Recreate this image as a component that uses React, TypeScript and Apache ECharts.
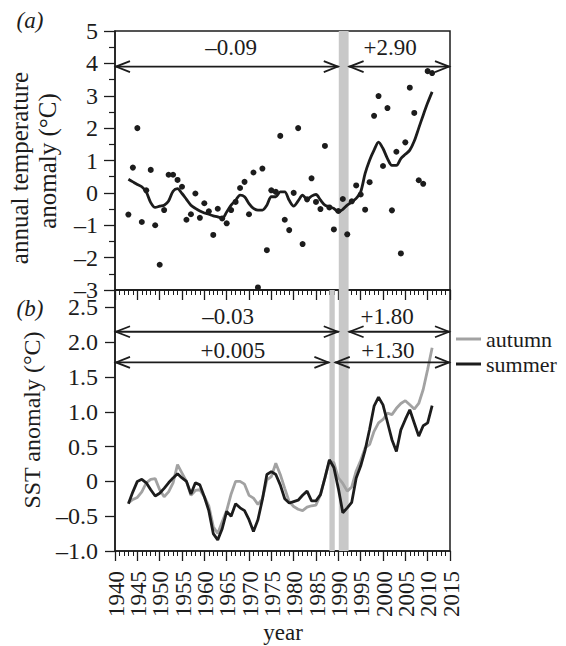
import React, { useEffect, useRef } from 'react';
import * as echarts from 'echarts';

const years = [
  1943, 1944, 1945, 1946, 1947, 1948, 1949, 1950, 1951, 1952,
  1953, 1954, 1955, 1956, 1957, 1958, 1959, 1960, 1961, 1962,
  1963, 1964, 1965, 1966, 1967, 1968, 1969, 1970, 1971, 1972,
  1973, 1974, 1975, 1976, 1977, 1978, 1979, 1980, 1981, 1982,
  1983, 1984, 1985, 1986, 1987, 1988, 1989, 1990, 1991, 1992,
  1993, 1994, 1995, 1996, 1997, 1998, 1999, 2000, 2001, 2002,
  2003, 2004, 2005, 2006, 2007, 2008, 2009, 2010, 2011,
];

// year tick labels of the shared time axis
const yearTicks = [
  1940, 1945, 1950, 1955, 1960, 1965, 1970, 1975,
  1980, 1985, 1990, 1995, 2000, 2005, 2010, 2015,
];

// panel (a): annual air temperature anomaly (dots) and smoothed curve
const annualAnomaly = [
  -0.67, 0.78, 2.0, -0.9, 0.08, 0.71, -1.0, -2.22, -0.53, 0.56,
  0.56, 0.4, 0.19, -0.83, -0.66, -0.02, -0.77, -0.32, -0.57, -1.3,
  -0.49, -0.79, -0.94, -0.53, -0.28, 0.15, 0.34, -0.66, 0.63, -2.92,
  0.75, -1.77, 0.08, 0.03, 1.76, -0.83, -1.15, 0.0, 2.0, -1.58,
  -0.2, 0.45, -0.28, -0.5, 1.45, -0.45, -1.13, -0.56, -0.19, -1.28,
  -0.26, 0.23, -0.05, -0.52, 0.33, 2.38, 2.99, 0.83, 2.62, -0.54,
  1.27, -1.87, 1.56, 3.25, 2.47, 0.39, 0.28, 3.76, 3.7,
];
const annualSmooth = [
  0.42, 0.34, 0.26, 0.19, 0.03, -0.3, -0.45, -0.41, -0.38, -0.25,
  0.05, 0.13, -0.02, -0.2, -0.38, -0.48, -0.56, -0.62, -0.66, -0.71,
  -0.74, -0.79, -0.59, -0.38, -0.23, -0.07, -0.12, -0.33, -0.48, -0.53,
  -0.53, -0.38, -0.12, -0.12, 0.03, 0.03, -0.23, -0.41, -0.25, -0.07,
  -0.2, -0.1, -0.05, -0.22, -0.38, -0.43, -0.48, -0.59, -0.51, -0.38,
  -0.28, -0.17, 0.03, 0.6, 1.01, 1.32, 1.57, 1.37, 1.06, 0.85,
  0.85, 1.06, 1.19, 1.32, 1.6, 2.0, 2.4, 2.78, 3.12,
];

// panel (b): SST anomaly
const autumnSST = [
  -0.31, -0.26, -0.23, -0.15, -0.02, 0.03, 0.04, -0.12, -0.22, -0.15,
  -0.02, 0.24, 0.12, 0.0, -0.2, -0.13, -0.12, -0.22, -0.35, -0.65,
  -0.75, -0.58, -0.42, -0.18, 0.0, 0.0, -0.04, -0.2, -0.24, -0.33,
  -0.25, 0.02, 0.07, 0.26, 0.1, -0.1, -0.29, -0.36, -0.4, -0.42,
  -0.37, -0.35, -0.34, -0.19, 0.05, 0.29, 0.27, 0.05, -0.03, -0.14,
  -0.08, 0.15, 0.3, 0.48, 0.53, 0.72, 0.84, 0.89, 0.98, 0.96,
  1.05, 1.12, 1.16, 1.1, 1.04, 1.12, 1.32, 1.61, 1.92,
];
const summerSST = [
  -0.32, -0.15, 0.0, 0.03, -0.02, -0.12, -0.21, -0.17, -0.1, -0.02,
  0.05, 0.11, 0.05, 0.0, -0.18, -0.02, -0.05, -0.22, -0.42, -0.75,
  -0.84, -0.68, -0.43, -0.5, -0.32, -0.38, -0.42, -0.55, -0.72, -0.55,
  -0.26, 0.1, 0.14, 0.1, -0.05, -0.25, -0.31, -0.29, -0.27, -0.2,
  -0.14, -0.28, -0.28, -0.19, 0.05, 0.31, 0.2, -0.1, -0.45, -0.38,
  -0.3, 0.05, 0.22, 0.45, 0.75, 1.08, 1.21, 1.1, 0.85, 0.6,
  0.43, 0.74, 0.89, 1.03, 0.84, 0.65, 0.8, 0.84, 1.09,
];

// shaded periods (start year, end year)
const bandsA = [[1990.1, 1992.3]];
const bandsB = [[1988, 1989.2], [1990.1, 1992.3]];

// trend arrows: [from year, to year, y value, label x (year), label y]
const arrowsA = [
  [1940, 1990.1, 3.9, 1966, 4.48],
  [1992.3, 2015, 3.9, 2001.6, 4.48],
];
const arrowLabelsA = ['\u20130.09', '+2.90'];
const arrowsB = [
  [1940, 1990.1, 2.15, 1965.3, 2.37],
  [1992.3, 2015, 2.15, 2000.9, 2.37],
  [1940, 1988, 1.71, 1966.4, 1.88],
  [1989.2, 2015, 1.71, 2001.1, 1.88],
];
const arrowLabelsB = ['\u20130.03', '+1.80', '+0.005', '+1.30'];

const FONT = 'Liberation Serif';
const INK = '#1c1c1c';
const GREY = '#a2a2a2';
const BAND = '#c8c8c8';

const dash = (v: number, digits: number) => {
  if (v === 0) return '0';
  const s = Math.abs(v).toFixed(digits);
  return v < 0 ? '\u2013' + s : s;
};

function arrowRenderer(labels: string[]) {
  return (params: any, api: any) => {
    const p1 = api.coord([api.value(0), api.value(2)]);
    const p2 = api.coord([api.value(1), api.value(2)]);
    const lp = api.coord([api.value(3), api.value(4)]);
    const hl = 15;
    const hw = 5.5;
    const st = { stroke: INK, lineWidth: 1.8, fill: 'none' };
    return {
      type: 'group',
      children: [
        { type: 'line', shape: { x1: p1[0], y1: p1[1], x2: p2[0], y2: p2[1] }, style: st },
        {
          type: 'polyline',
          shape: { points: [[p1[0] + hl, p1[1] - hw], [p1[0] + 1, p1[1]], [p1[0] + hl, p1[1] + hw]] },
          style: st,
        },
        {
          type: 'polyline',
          shape: { points: [[p2[0] - hl, p2[1] - hw], [p2[0] - 1, p2[1]], [p2[0] - hl, p2[1] + hw]] },
          style: st,
        },
        {
          type: 'text',
          x: lp[0],
          y: lp[1],
          style: {
            text: labels[params.dataIndex],
            fill: INK,
            fontSize: 23,
            fontFamily: FONT,
            align: 'center',
            verticalAlign: 'middle',
          },
        },
      ],
    };
  };
}

// rotated year labels placed under the bottom axis through the axis scale
function yearLabelRenderer(params: any, api: any) {
  const p = api.coord([api.value(0), -1]);
  return {
    type: 'text',
    x: p[0] + 1,
    y: p[1] + 20,
    rotation: Math.PI / 2,
    style: {
      text: String(api.value(0)),
      fill: INK,
      fontSize: 23,
      fontFamily: FONT,
      align: 'right',
      verticalAlign: 'middle',
    },
  };
}

export default function App() {
  const ref = useRef<HTMLDivElement>(null);

  useEffect(() => {
    if (!ref.current) return;
    const chart = echarts.init(ref.current, undefined, { renderer: 'svg' });

    const axisLine = { show: true, onZero: false, lineStyle: { color: INK, width: 1.5 } };
    const xCommon = {
      type: 'value',
      min: 1940,
      max: 2015,
      interval: 5,
      axisLine,
      splitLine: { show: false },
      axisLabel: { show: false },
      axisTick: { show: true, inside: false, length: 10, lineStyle: { color: INK, width: 1.3 } },
      minorTick: { show: true, splitNumber: 5, length: 5, lineStyle: { color: INK, width: 1 } },
    };

    const txt = (text: string, x: number, y: number, size: number, rot = 0, italic = false) => ({
      type: 'text',
      x,
      y,
      rotation: rot,
      style: {
        text,
        fontSize: size,
        fontFamily: FONT,
        fontStyle: italic ? 'italic' : 'normal',
        fill: INK,
        align: 'center',
        verticalAlign: 'middle',
      },
    });

    const option: any = {
      animation: false,
      backgroundColor: '#ffffff',
      textStyle: { fontFamily: FONT },
      grid: [
        { left: 115, top: 31, width: 335, height: 259, show: true, borderColor: INK, borderWidth: 1.5, backgroundColor: 'transparent' },
        { left: 115, top: 290, width: 335, height: 261, show: true, borderColor: INK, borderWidth: 1.5, backgroundColor: 'transparent' },
      ],
      xAxis: [
        { ...xCommon, gridIndex: 0 },
        { ...xCommon, gridIndex: 1 },
      ],
      yAxis: [
        {
          type: 'value',
          gridIndex: 0,
          min: -3,
          max: 5,
          interval: 1,
          axisLine,
          splitLine: { show: false },
          axisTick: { show: true, inside: false, length: 11, lineStyle: { color: INK, width: 1.3 } },
          minorTick: { show: true, splitNumber: 2, length: 6, lineStyle: { color: INK, width: 1.2 } },
          axisLabel: {
            margin: 17,
            fontSize: 24,
            lineHeight: 16,
            fontFamily: FONT,
            color: INK,
            showMinLabel: true,
            showMaxLabel: true,
            formatter: (v: number) => dash(v, 0),
          },
        },
        {
          type: 'value',
          gridIndex: 1,
          min: -1,
          max: 2.75,
          interval: 0.5,
          axisLine,
          splitLine: { show: false },
          axisTick: { show: true, inside: false, length: 10, lineStyle: { color: INK, width: 1.3 } },
          axisLabel: {
            margin: 17,
            fontSize: 24,
            lineHeight: 16,
            fontFamily: FONT,
            color: INK,
            showMinLabel: true,
            showMaxLabel: false,
            formatter: (v: number) => (v > 2.6 ? '' : dash(v, 1)),
          },
        },
      ],
      legend: {
        data: [
          { name: 'autumn', icon: 'rect' },
          { name: 'summer', icon: 'rect' },
        ],
        orient: 'vertical',
        left: 456,
        top: 328,
        itemWidth: 25,
        itemHeight: 3,
        itemGap: 3,
        padding: 0,
        textStyle: { fontSize: 22, lineHeight: 22, fontFamily: FONT, color: INK },
      },
      graphic: [
        txt('(a)', 30, 20, 23, 0, true),
        txt('(b)', 30, 308, 23, 0, true),
        txt('annual temperature', 19, 168, 25, Math.PI / 2),
        txt('anomaly (\u00B0C)', 47, 161, 25, Math.PI / 2),
        txt('SST anomaly (\u00B0C)', 32, 420, 24, Math.PI / 2),
        txt('year', 283, 632, 23),
      ],
      series: [
        {
          name: 'bandsA',
          type: 'line',
          xAxisIndex: 0,
          yAxisIndex: 0,
          data: years.map((y, i) => [y, annualSmooth[i]]),
          lineStyle: { opacity: 0 },
          symbol: 'none',
          silent: true,
          z: 0,
          markArea: {
            silent: true,
            itemStyle: { color: BAND, opacity: 1 },
            data: bandsA.map((b) => [{ xAxis: b[0] }, { xAxis: b[1] }]),
          },
        },
        {
          name: 'annual',
          type: 'scatter',
          xAxisIndex: 0,
          yAxisIndex: 0,
          symbol: 'circle',
          symbolSize: 6,
          itemStyle: { color: INK, opacity: 1 },
          data: years.map((y, i) => [y, annualAnomaly[i]]),
          z: 3,
        },
        {
          name: 'smoothed',
          type: 'line',
          xAxisIndex: 0,
          yAxisIndex: 0,
          symbol: 'none',
          smooth: 0.3,
          lineStyle: { color: INK, width: 2.8 },
          data: years.map((y, i) => [y, annualSmooth[i]]),
          z: 3,
        },
        {
          name: 'arrowsA',
          type: 'custom',
          xAxisIndex: 0,
          yAxisIndex: 0,
          renderItem: arrowRenderer(arrowLabelsA),
          encode: { x: [0, 1, 3], y: [2, 4] },
          data: arrowsA,
          z: 4,
          silent: true,
        },
        {
          name: 'bandsB',
          type: 'line',
          xAxisIndex: 1,
          yAxisIndex: 1,
          data: years.map((y, i) => [y, summerSST[i]]),
          lineStyle: { opacity: 0 },
          symbol: 'none',
          silent: true,
          z: 0,
          markArea: {
            silent: true,
            itemStyle: { color: BAND, opacity: 1 },
            data: bandsB.map((b) => [{ xAxis: b[0] }, { xAxis: b[1] }]),
          },
        },
        {
          name: 'autumn',
          type: 'line',
          xAxisIndex: 1,
          yAxisIndex: 1,
          symbol: 'none',
          color: GREY,
          itemStyle: { color: GREY },
          lineStyle: { color: GREY, width: 2.8 },
          data: years.map((y, i) => [y, autumnSST[i]]),
          z: 3,
        },
        {
          name: 'summer',
          type: 'line',
          xAxisIndex: 1,
          yAxisIndex: 1,
          symbol: 'none',
          color: INK,
          itemStyle: { color: INK },
          lineStyle: { color: INK, width: 2.8 },
          data: years.map((y, i) => [y, summerSST[i]]),
          z: 3,
        },
        {
          name: 'arrowsB',
          type: 'custom',
          xAxisIndex: 1,
          yAxisIndex: 1,
          renderItem: arrowRenderer(arrowLabelsB),
          encode: { x: [0, 1, 3], y: [2, 4] },
          data: arrowsB,
          z: 4,
          silent: true,
        },
        {
          name: 'yearLabels',
          type: 'custom',
          xAxisIndex: 1,
          yAxisIndex: 1,
          clip: false,
          renderItem: yearLabelRenderer,
          encode: { x: 0 },
          data: yearTicks.map((t) => [t]),
          z: 4,
          silent: true,
        },
      ],
    };

    chart.setOption(option);
    return () => chart.dispose();
  }, []);

  return (
    <div
      ref={ref}
      style={{ position: 'absolute', left: 0, top: 0, width: 566, height: 646, background: '#fff' }}
    />
  );
}
